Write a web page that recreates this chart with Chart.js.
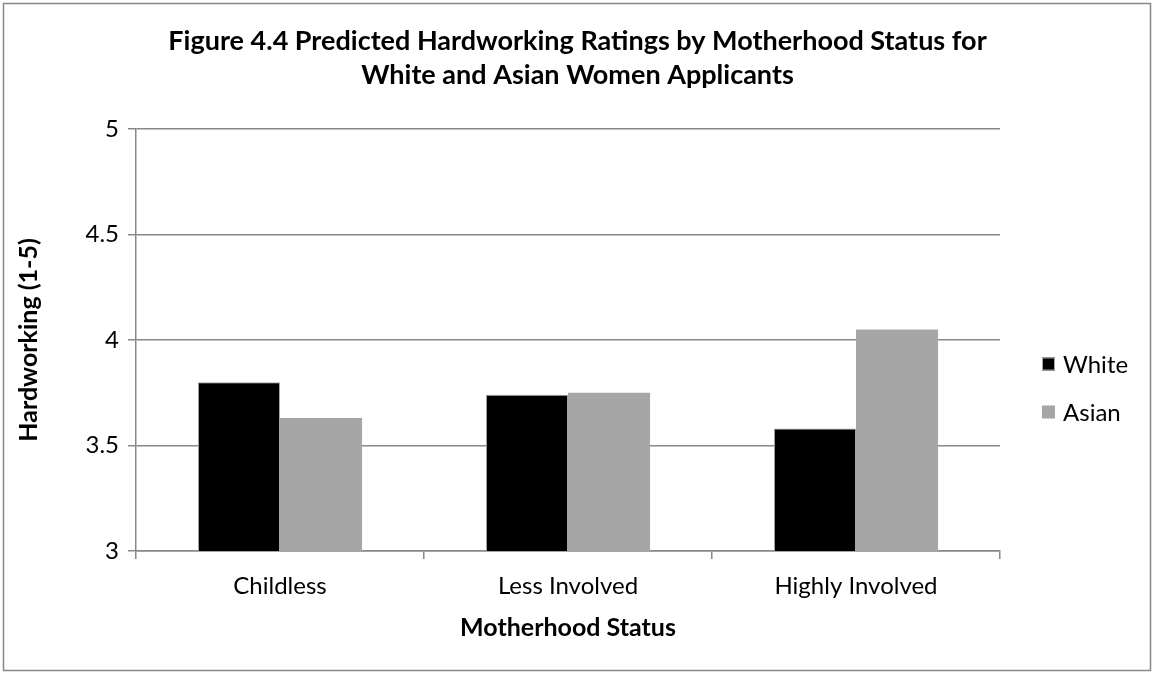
<!DOCTYPE html>
<html>
<head>
<meta charset="utf-8">
<script src="https://cdn.jsdelivr.net/npm/chart.js@4"></script>
<style>
  body { margin: 0; background: #fff; }
  #wrap { width: 1155px; height: 675px; position: relative; }
</style>
</head>
<body>
<div id="wrap"><canvas id="chart" width="1155" height="675"></canvas></div>
<script>
const categories = ['Childless', 'Less Involved', 'Highly Involved'];
const whiteValues = [3.80, 3.74, 3.58];
const asianValues = [3.63, 3.75, 4.05];
const yTicks = [3, 3.5, 4, 4.5, 5];

const FONT = 'Lato, "Open Sans", sans-serif';
const GRID = '#888888';

// grey frame around the whole figure
const framePlugin = {
    id: 'frame',
    afterDraw(chart) {
        const c = chart.ctx;
        c.save();
        c.strokeStyle = GRID;
        c.lineWidth = 1.5;
        c.strokeRect(3.5, 3.5, 1147, 667);
        c.restore();
    }
};

// legend on the right, a bit below the middle like the original
const sideLegend = {
    id: 'sideLegend',
    afterDraw(chart) {
        const c = chart.ctx;
        const rows = [364, 412];
        c.save();
        c.font = '24px ' + FONT;
        c.textBaseline = 'middle';
        chart.data.datasets.forEach((ds, i) => {
            const y = rows[i];
            c.fillStyle = ds.backgroundColor;
            c.fillRect(1042, y - 6.5, 13, 13);
            if (ds.borderWidth) {
                c.strokeStyle = ds.borderColor;
                c.lineWidth = 1;
                c.strokeRect(1042.5, y - 6, 12, 12);
            }
            c.fillStyle = '#000';
            c.fillText(ds.label, 1063, y + 1);
        });
        c.restore();
    }
};

const ctx = document.getElementById('chart').getContext('2d');
new Chart(ctx, {
    type: 'bar',
    data: {
        labels: categories,
        datasets: [{
            label: 'White',
            data: whiteValues,
            backgroundColor: '#000000',
            borderColor: '#a6a6a6',
            borderWidth: 1
        }, {
            label: 'Asian',
            data: asianValues,
            backgroundColor: '#a6a6a6',
            borderColor: '#a6a6a6',
            borderWidth: 0
        }]
    },
    options: {
        responsive: false,
        animation: false,
        layout: { padding: { left: 14, right: 14, top: 10, bottom: 27 } },
        datasets: {
            bar: { barPercentage: 1.0, categoryPercentage: 0.57 }
        },
        plugins: {
            title: {
                display: true,
                text: ['Figure 4.4 Predicted Hardworking Ratings by Motherhood Status for',
                       'White and Asian Women Applicants'],
                color: '#000',
                font: { family: FONT, size: 27, weight: 'bold', lineHeight: 1.24 },
                padding: { top: 15, bottom: 37 }
            },
            legend: { display: false },
            tooltip: { enabled: false }
        },
        scales: {
            x: {
                grid: {
                    offset: true,
                    drawOnChartArea: false,
                    color: GRID,
                    lineWidth: 1.5,
                    tickLength: 8
                },
                border: { color: GRID, width: 1.5 },
                ticks: { color: '#000', font: { family: FONT, size: 24 }, padding: 13 },
                title: {
                    display: true,
                    text: 'Motherhood Status',
                    color: '#000',
                    font: { family: FONT, size: 25, weight: 'bold' },
                    padding: { top: 10, bottom: 5 }
                },
                afterFit: s => { s.height = 97; }
            },
            y: {
                min: 3,
                max: 5,
                afterBuildTicks: s => { s.ticks = yTicks.map(v => ({ value: v })); },
                grid: { color: GRID, lineWidth: 1.5, tickLength: 8 },
                border: { color: GRID, width: 1.5 },
                ticks: {
                    color: '#000',
                    font: { family: FONT, size: 24 },
                    padding: 9,
                    callback: v => String(v)
                },
                title: {
                    display: true,
                    text: 'Hardworking (1-5)',
                    color: '#000',
                    font: { family: FONT, size: 25, weight: 'bold' },
                    padding: { top: 0, bottom: 4 }
                },
                afterFit: s => { s.width = 122; }
            },
            // empty axis on the right that keeps room for the legend
            legendSpace: {
                type: 'linear',
                position: 'right',
                grid: { display: false },
                border: { display: false },
                ticks: { display: false },
                afterFit: s => { s.width = 141; }
            }
        }
    },
    plugins: [framePlugin, sideLegend]
});
</script>
</body>
</html>
